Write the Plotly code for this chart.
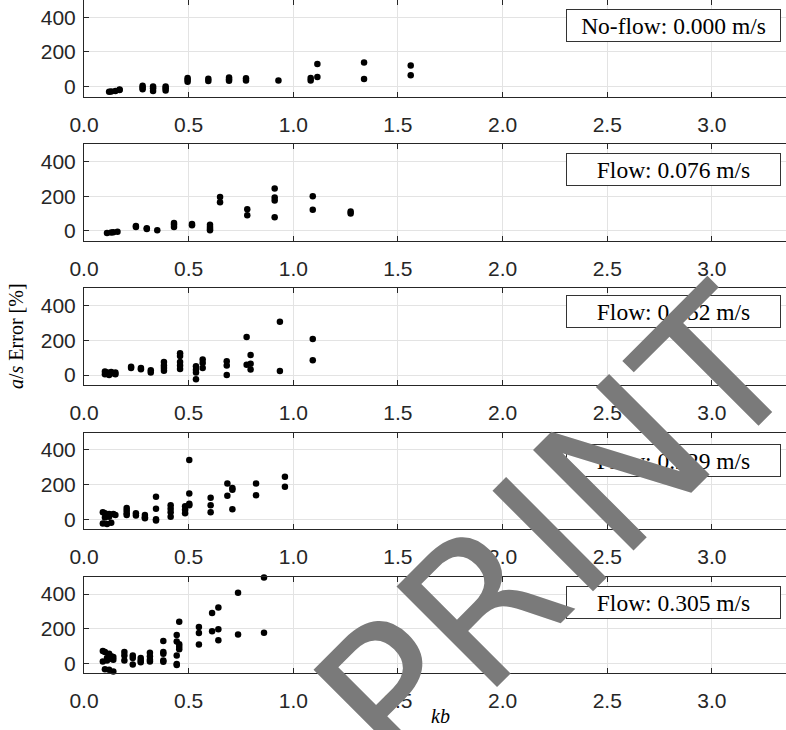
import plotly.graph_objects as go
from plotly.subplots import make_subplots

labels = ["No-flow: 0.000 m/s", "Flow: 0.076 m/s", "Flow: 0.152 m/s", "Flow: 0.229 m/s", "Flow: 0.305 m/s"]

kb1 = [0.12, 0.13, 0.15, 0.17, 0.17, 0.28, 0.28, 0.28, 0.33, 0.33, 0.33, 0.39, 0.39, 0.39,
       0.495, 0.495, 0.495, 0.594, 0.594, 0.693, 0.693, 0.693, 0.774, 0.774, 0.929,
       1.083, 1.083, 1.115, 1.115, 1.338, 1.338, 1.561, 1.561]
err1 = [-30, -28, -25, -20, -17, 5, -5, -15, 0, -10, -25, 0, -10, -22,
        50, 40, 28, 45, 32, 52, 42, 34, 48, 35, 35,
        50, 35, 131, 55, 139, 44, 122, 65]

kb2 = [0.11, 0.13, 0.14, 0.16, 0.248, 0.248, 0.30, 0.30, 0.35, 0.43, 0.43, 0.43, 0.516, 0.516,
       0.602, 0.602, 0.602, 0.602, 0.65, 0.65, 0.78, 0.78, 0.911, 0.911, 0.911, 0.911,
       1.093, 1.093, 1.274, 1.274]
err2 = [-12, -10, -8, -5, 28, 22, 15, 10, 3, 45, 35, 22, 40, 32,
        35, 22, 10, 3, 195, 165, 124, 90, 244, 193, 175, 78,
        200, 122, 112, 100]

kb3 = [0.10, 0.10, 0.11, 0.12, 0.12, 0.13, 0.14, 0.15, 0.15, 0.225, 0.225, 0.272, 0.272,
       0.319, 0.319, 0.382, 0.382, 0.382, 0.382, 0.459, 0.459, 0.459, 0.459, 0.459,
       0.535, 0.535, 0.535, 0.535, 0.567, 0.567, 0.567, 0.682, 0.682, 0.682,
       0.777, 0.777, 0.796, 0.796, 0.796, 0.936, 0.936, 1.093, 1.093]
err3 = [20, 5, 15, 0, 12, 18, 10, 15, 5, 48, 40, 40, 33,
        28, 15, 75, 55, 40, 25, 125, 110, 75, 55, 35,
        50, 30, 15, -25, 90, 70, 40, 80, 55, 0,
        219, 60, 115, 65, 32, 307, 23, 208, 85]

kb4 = [0.09, 0.10, 0.12, 0.10, 0.12, 0.14, 0.15, 0.09, 0.11, 0.13,
       0.204, 0.204, 0.204, 0.204, 0.248, 0.248, 0.291, 0.291, 0.291,
       0.344, 0.344, 0.344, 0.344, 0.414, 0.414, 0.414, 0.414, 0.483, 0.483, 0.483,
       0.503, 0.503, 0.503, 0.503, 0.605, 0.605, 0.605, 0.685, 0.685,
       0.709, 0.709, 0.709, 0.822, 0.822, 0.960, 0.960]
err4 = [40, 35, 30, 10, 15, 30, 25, -25, -28, -20,
        65, 50, 35, 25, 35, 22, 25, 12, 5,
        130, 60, 0, -8, 80, 60, 40, 15, 75, 55, 35,
        342, 148, 90, 80, 124, 80, 40, 206, 136,
        180, 170, 57, 206, 138, 245, 187]

kb5 = [0.09, 0.10, 0.12, 0.13, 0.14, 0.09, 0.11, 0.14, 0.10, 0.12, 0.14, 0.11, 0.13,
       0.193, 0.193, 0.193, 0.233, 0.233, 0.233, 0.271, 0.271, 0.271,
       0.315, 0.315, 0.315, 0.315, 0.379, 0.379, 0.379, 0.379, 0.379,
       0.443, 0.443, 0.443, 0.443, 0.443, 0.455, 0.455, 0.455, 0.455,
       0.549, 0.549, 0.549, 0.612, 0.612, 0.642, 0.642, 0.642, 0.736, 0.736, 0.860, 0.860]
err5 = [70, 65, 55, 40, 35, 10, 15, 20, -35, -38, -48, 30, 25,
        65, 45, 15, 45, 30, -8, 30, 15, 5,
        60, 40, 20, 10, 128, 65, 55, 15, 8,
        163, 125, 45, -5, -10, 240, 110, 95, 80,
        210, 175, 108, 290, 185, 322, 197, 133, 408, 166, 496, 176]

x_ticks = [0.0, 0.5, 1.0, 1.5, 2.0, 2.5, 3.0]
y_ticks = [0, 200, 400]

series = [(kb1, err1), (kb2, err2), (kb3, err3), (kb4, err4), (kb5, err5)]

W, H = 786, 730
ML, MR, MT, MB = 84, 0, 0, 57
PH = H - MT - MB
PW = W - ML - MR
px_per_unit = 209.3
xmax = PW / px_per_unit
panel_h = 96.5
box_off = [9, 9, 7, 11, 9]

fig = make_subplots(rows=5, cols=1)

axis_col = "#262626"
grid_col = "#e3e3e3"
tick_font = dict(family="Liberation Sans, Arial", size=21, color="#262626")
serif = "Liberation Serif, Times New Roman, serif"

for i, (kb, err) in enumerate(series):
    r = i + 1
    fig.add_trace(go.Scatter(x=kb, y=err, mode="markers",
                             marker=dict(color="black", size=6.5),
                             cliponaxis=False, showlegend=False), row=r, col=1)
    top = 144.2 * i
    bot = min(top + panel_h, PH)
    yname = "yaxis" if r == 1 else f"yaxis{r}"
    fig.layout[yname].domain = [max(0.0, 1 - bot / PH), min(1.0, 1 - top / PH)]
    fig.update_xaxes(row=r, col=1, range=[0, xmax], tickvals=x_ticks,
                     ticktext=[f"{v:.1f}" for v in x_ticks],
                     showgrid=True, gridcolor=grid_col, gridwidth=1,
                     showline=True, linecolor=axis_col, linewidth=1, mirror="ticks",
                     ticks="inside", ticklen=5, tickcolor=axis_col,
                     zeroline=False, ticklabelstandoff=9, automargin=False,
                     tickfont=tick_font)
    fig.update_yaxes(row=r, col=1, range=[-57, 500], tickvals=y_ticks,
                     showgrid=True, gridcolor=grid_col, gridwidth=1,
                     showline=True, linecolor=axis_col, linewidth=1, mirror=False,
                     ticks="inside", ticklen=5, tickcolor=axis_col,
                     zeroline=False, ticklabelstandoff=3, automargin=False,
                     tickfont=tick_font)
    yref = "y domain" if r == 1 else f"y{r} domain"
    fig.add_annotation(text=labels[i], xref="paper", yref=yref,
                       x=(781 - ML) / PW, y=1 - box_off[i] / panel_h, xanchor="right", yanchor="top",
                       showarrow=False, bgcolor="white", bordercolor="#333333", borderwidth=1,
                       borderpad=2, width=209, height=27, align="center",
                       font=dict(family=serif, size=23.5, color="black"))

fig.add_annotation(text="<i>a</i>/<i>s</i> Error [%]", xref="paper", yref="paper",
                   x=(16 - ML) / PW, y=(PH - 336) / PH, xanchor="center", yanchor="middle",
                   textangle=-90, showarrow=False,
                   font=dict(family=serif, size=20, color="black"))

fig.add_annotation(text="<i>kb</i>", xref="paper", yref="paper",
                   x=(440 - ML) / PW, y=(PH - 716) / PH, xanchor="center", yanchor="middle",
                   showarrow=False,
                   font=dict(family=serif, size=20, color="black"))

fig.add_annotation(text="PRINT", xref="paper", yref="paper",
                   x=(556 - ML) / PW, y=(PH - 532) / PH, xanchor="center", yanchor="middle",
                   textangle=-45, showarrow=False,
                   font=dict(family="DejaVu Sans", size=195, color="#7a7a7a"))

fig.update_layout(width=W, height=H, margin=dict(l=ML, r=MR, t=MT, b=MB, autoexpand=False),
                  plot_bgcolor="white", paper_bgcolor="white", hovermode=False)

fig.write_html("out.html", config={"displayModeBar": False},
               post_script="document.body.style.margin='0';document.body.style.padding='0';")
